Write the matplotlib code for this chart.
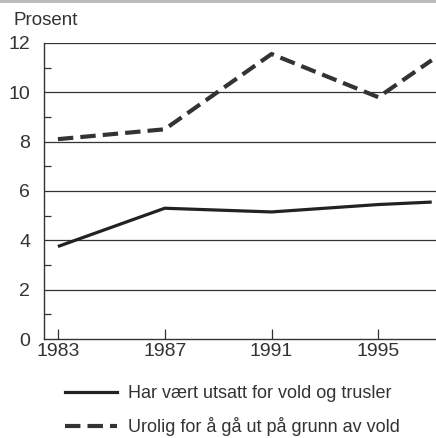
import matplotlib
matplotlib.use("Agg")
import matplotlib.pyplot as plt
from matplotlib.lines import Line2D
from matplotlib.patches import Rectangle

plt.rcParams['font.family'] = ['Liberation Sans Narrow', 'Liberation Sans', 'DejaVu Sans']

# data
years = [1983, 1987, 1991, 1995, 1997]
utsatt = [3.75, 5.3, 5.15, 5.45, 5.55]
urolig = [8.1, 8.5, 11.55, 9.8, 11.3]
yticks = [0, 2, 4, 6, 8, 10, 12]
xticks = [1983, 1987, 1991, 1995]
labels = ["Har vært utsatt for vold og trusler",
          "Urolig for å gå ut på grunn av vold"]

INK = '#222222'
GREY = '#333333'
DASH = (3.7, 1.7)

fig = plt.figure(figsize=(4.36, 4.38), dpi=100)
ax = fig.add_axes([0.101, 0.226, 0.899, 0.676])

# grey strip at the very top of the scan
fig.patches.append(Rectangle((0, 0.994), 1, 0.006, transform=fig.transFigure,
                             color='#bbbbbb', lw=0))

for v in yticks[1:]:
    ax.axhline(v, color=GREY, lw=0.9, zorder=1)

ax.plot(years, utsatt, color=INK, lw=2.3, solid_capstyle='butt', zorder=3)
ax.plot(years, urolig, color=GREY, lw=3.0, dashes=DASH,
        dash_capstyle='butt', zorder=3)

ax.set_xlim(1982.48, 1997.16)
ax.set_ylim(0, 12)
ax.set_xticks(xticks)
ax.set_xticklabels([str(y) for y in xticks])
ax.set_yticks(yticks)
ax.set_yticks([1, 3, 5, 7, 9, 11], minor=True)

for s in ['top', 'right']:
    ax.spines[s].set_visible(False)
for s in ['left', 'bottom']:
    ax.spines[s].set_color(GREY)
    ax.spines[s].set_linewidth(1.0)

ax.tick_params(axis='x', direction='in', length=7, width=0.9, color=GREY,
               labelsize=14, labelcolor=GREY, pad=3)
ax.tick_params(axis='y', which='major', length=0, labelsize=14,
               labelcolor=GREY, pad=10)
ax.tick_params(axis='y', which='minor', direction='in', length=5, width=0.9,
               color=GREY)

fig.text(0.032, 0.933, "Prosent", fontsize=13.5, color=GREY, ha='left',
         va='bottom')

handles = [Line2D([], [], color=INK, lw=2.3),
           Line2D([], [], color=GREY, lw=3.0, dashes=DASH)]
fig.legend(handles, labels, loc='lower left', bbox_to_anchor=(0.149, 0.004),
           frameon=False, fontsize=13, handlelength=2.9, handletextpad=0.6,
           labelspacing=0.82, borderpad=0, borderaxespad=0, labelcolor=GREY)

fig.savefig("out.png", dpi=100)
